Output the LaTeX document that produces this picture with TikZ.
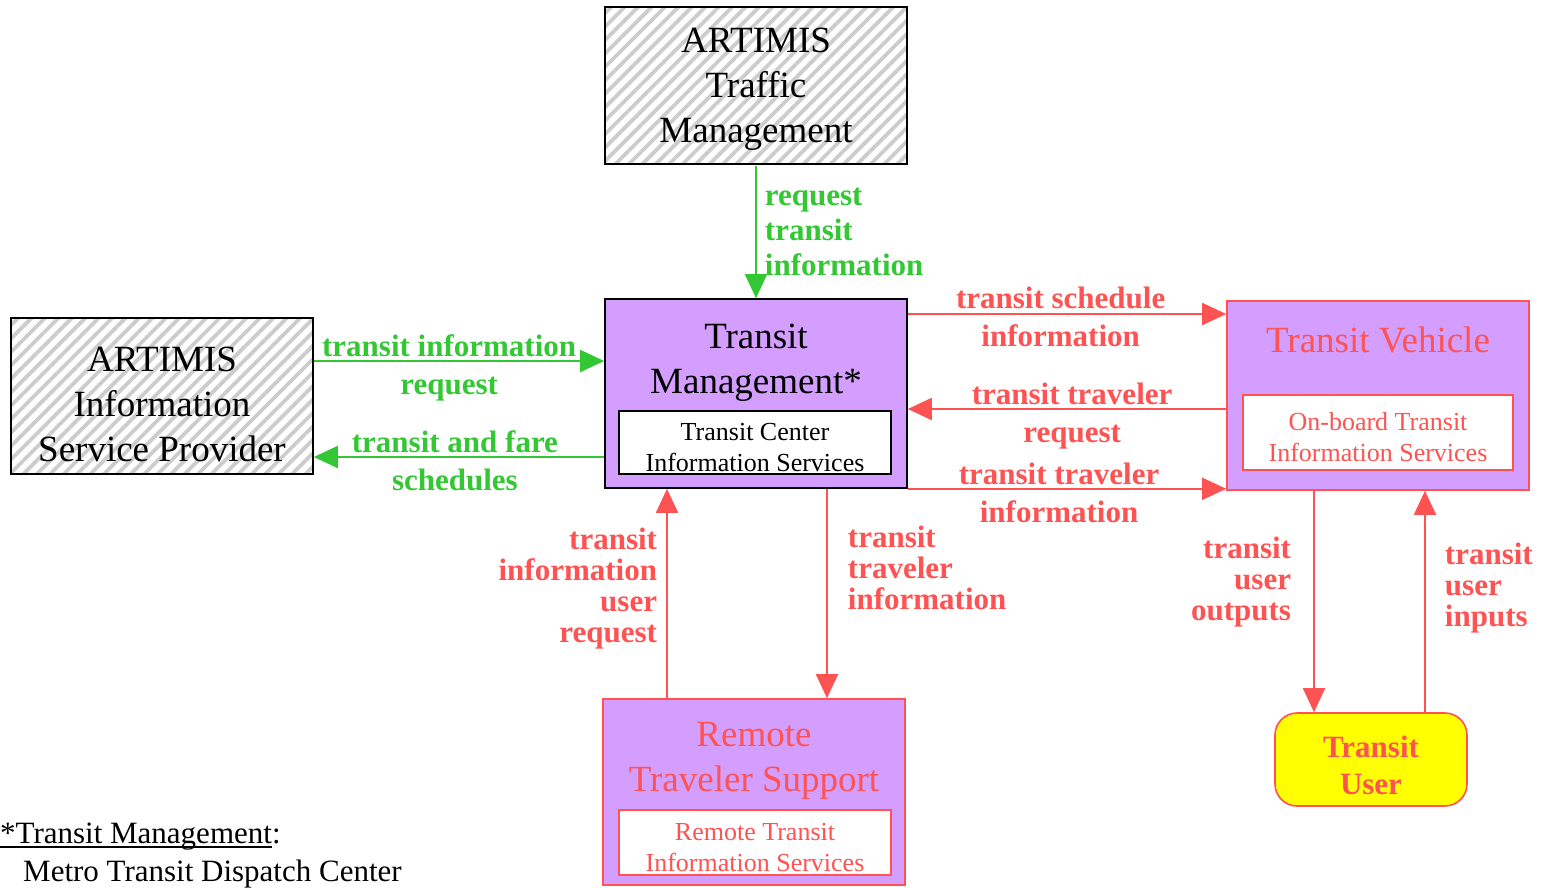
\documentclass[tikz,border=0pt]{standalone}
\usepackage{fontspec}
\setmainfont{Liberation Serif}
\usetikzlibrary{arrows.meta,patterns.meta}

\definecolor{tmpurple}{RGB}{212,158,255}
\definecolor{flowred}{RGB}{255,82,82}
\definecolor{flowgreen}{RGB}{51,200,51}
\definecolor{useryellow}{RGB}{255,255,0}

\newcommand\undertext[1]{\setbox0=\hbox{#1}\rlap{\rule[-4pt]{\wd0}{1.6pt}}\box0}

\begin{document}
\begin{tikzpicture}[x=1pt, y=-1pt,
    hatchbox/.style={draw, line width=1.6pt, pattern={Lines[angle=45,distance=9.5pt,line width=3.8pt]}, pattern color=black!20},
    sysbox/.style={draw=#1, line width=1.6pt, fill=tmpurple}, sysbox/.default=black,
    subbox/.style={draw=#1, line width=1.6pt, fill=white}, subbox/.default=black,
    bigtext/.style={font=\fontsize{37}{45}\selectfont, align=center, inner sep=0pt},
    smalltext/.style={font=\fontsize{26}{31}\selectfont, align=center, inner sep=0pt},
    flow/.style={line width=1.9pt, -{Triangle[length=24pt,width=22pt]}},
    flowlbl/.style={font=\bfseries\fontsize{31}{31}\selectfont, inner sep=0pt},
    pairlbl/.style={flowlbl, align=center, font=\bfseries\fontsize{31}{38}\selectfont}]
    \useasboundingbox (0,0) rectangle (1543,887);

    % ARTIMIS systems
    \node[hatchbox, minimum width=302, minimum height=157] (atm) at (756,85.5) {};
    \node[bigtext] (atmtitle) at (756,89) {ARTIMIS\\Traffic\\Management};
    \node[hatchbox, minimum width=302, minimum height=156] (isp) at (162,396) {};
    \node[bigtext] (isptitle) at (162,404) {ARTIMIS\\Information\\Service Provider};

    % transit management
    \node[sysbox, minimum width=302, minimum height=189] (tm) at (756,393.5) {};
    \node[bigtext] (tmtitle) at (756,363) {Transit\\Management*};
    \node[subbox, minimum width=272, minimum height=63] (tmsub) at (755,442.5) {};
    \node[smalltext] (tmsubtext) at (755,447.5) {Transit Center\\Information Services};

    % transit vehicle
    \node[sysbox=flowred, minimum width=302, minimum height=189] (tv) at (1378,395.5) {};
    \node[bigtext, text=flowred] (tvtitle) at (1378,340) {Transit Vehicle};
    \node[subbox=flowred, minimum width=270, minimum height=75] (tvsub) at (1378,432.5) {};
    \node[smalltext, text=flowred] (tvsubtext) at (1378,437) {On-board Transit\\Information Services};

    % remote traveler support
    \node[sysbox=flowred, minimum width=302, minimum height=186] (rts) at (754,792) {};
    \node[bigtext, text=flowred] (rtstitle) at (754,761) {Remote\\Traveler Support};
    \node[subbox=flowred, minimum width=272, minimum height=65] (rtssub) at (755,842.5) {};
    \node[smalltext, text=flowred] (rtssubtext) at (755,847.5) {Remote Transit\\Information Services};

    % transit user
    \node[draw=flowred, line width=1.6pt, fill=useryellow, rounded corners=22pt,
        minimum width=192, minimum height=93] (tu) at (1371,759.5) {};
    \node[bigtext, font=\bfseries\fontsize{31}{37}\selectfont, text=flowred] (tutitle) at (1371,765) {Transit\\User};

    % green flows
    \draw[flow, flowgreen] (atm.south) -- (tm.north)
        node[flowlbl, pos=0.5, anchor=west, xshift=8pt, align=left,
            font=\bfseries\fontsize{31}{35}\selectfont] {request\\transit\\information};
    \draw[flow, flowgreen] (isp.east |- 0,361) -- (tm.west |- 0,361)
        node[pairlbl, pos=0.466, yshift=-7pt] {transit information\\request};
    \draw[flow, flowgreen] (tm.west |- 0,457) -- (isp.east |- 0,457)
        node[pairlbl, pos=0.514, yshift=-4pt] {transit and fare\\schedules};

    % red flows
    \draw[flow, flowred] (tm.east |- 0,314) -- (tv.west |- 0,314)
        node[pairlbl, pos=0.48, yshift=-3pt] {transit schedule\\information};
    \draw[flow, flowred] (tv.west |- 0,409) -- (tm.east |- 0,409)
        node[pairlbl, pos=0.484, yshift=-7pt] {transit traveler\\request};
    \draw[flow, flowred] (tm.south east) -- (tv.west |- tm.south east)
        node[pairlbl, pos=0.475, yshift=-4pt] {transit traveler\\information};
    \draw[flow, flowred] (667,0 |- rts.north) -- (667,0 |- tm.south)
        node[flowlbl, pos=0.526, anchor=east, xshift=-9pt, align=right] {transit\\information\\user\\request};
    \draw[flow, flowred] (827,0 |- tm.south) -- (827,0 |- rts.north)
        node[flowlbl, pos=0.38, anchor=west, xshift=20pt, align=left] {transit\\traveler\\information};
    \draw[flow, flowred] (1314,0 |- tv.south) -- (1314,0 |- tu.north)
        node[flowlbl, pos=0.41, anchor=east, xshift=-22pt, align=right] {transit\\user\\outputs};
    \draw[flow, flowred] (1425,0 |- tu.north) -- (1425,0 |- tv.south)
        node[flowlbl, pos=0.56, anchor=west, xshift=19pt, align=left] {transit\\user\\inputs};

    % footnote
    \node[anchor=north west, align=left, inner sep=0pt, font=\fontsize{31}{38}\selectfont] (note) at (0,823)
        {\undertext{*Transit Management}:\\\hspace*{23pt}Metro Transit Dispatch Center};
\end{tikzpicture}
\end{document}
